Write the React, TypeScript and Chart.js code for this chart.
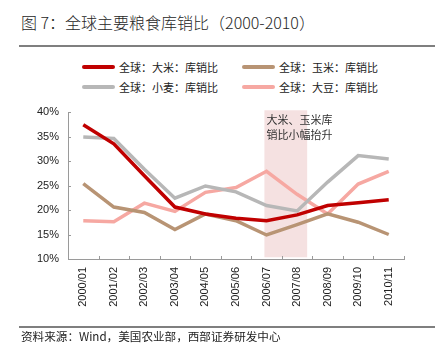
import React, { useEffect, useRef } from 'react';
import { Chart, registerables } from 'chart.js';

Chart.register(...registerables);

const categories = ['2000/01', '2001/02', '2002/03', '2003/04', '2004/05', '2005/06', '2006/07', '2007/08', '2008/09', '2009/10', '2010/11'];
const rice = [37.4, 33.5, 27.0, 20.6, 19.2, 18.3, 17.8, 19.0, 20.9, 21.5, 22.1];
const corn = [25.4, 20.6, 19.5, 16.0, 19.2, 17.8, 14.9, 17.0, 19.2, 17.5, 15.0];
const wheat = [34.9, 34.6, 28.3, 22.4, 24.9, 23.7, 20.9, 19.8, 25.7, 31.1, 30.4];
const soybean = [17.8, 17.6, 21.4, 19.7, 23.6, 24.6, 27.9, 23.2, 19.2, 25.3, 27.9];
const seriesNames = ['全球：大米：库销比', '全球：玉米：库销比', '全球：小麦：库销比', '全球：大豆：库销比'];
const seriesColors = ['#C00000', '#B89474', '#B7B7B7', '#F6A8A2'];
const yMin = 10;
const yMax = 40;
const yStep = 5;
const bandRange = [5.93, 7.33];
const bandNote = ['大米、玉米库', '销比小幅抬升'];
const titleText = '图 7：全球主要粮食库销比（2000-2010）';
const sourceText = '资料来源：Wind，美国农业部，西部证券研发中心';

const CJK = '"Noto Sans CJK SC", "Liberation Sans", sans-serif';
const LAT = '"Liberation Sans", "Noto Sans CJK SC", sans-serif';

const overlayPlugin = {
  id: 'overlay',
  beforeDatasetsDraw(chart: any) {
    const { ctx, scales } = chart;
    const x = scales.x;
    const y = scales.y;
    const x0 = x.getPixelForValue(bandRange[0]);
    const x1 = x.getPixelForValue(bandRange[1]);
    const y0 = y.getPixelForValue(40.35);
    const y1 = y.getPixelForValue(10.35);
    ctx.save();
    ctx.fillStyle = '#F5E1E1';
    ctx.fillRect(x0, y0, x1 - x0, y1 - y0);
    ctx.fillStyle = '#333333';
    ctx.font = '11px ' + CJK;
    ctx.textBaseline = 'middle';
    ctx.textAlign = 'left';
    ctx.fillText(bandNote[0], x0 + 2, y.getPixelForValue(38.4));
    ctx.fillText(bandNote[1], x0 + 2, y.getPixelForValue(35.3));
    ctx.restore();
  },
  afterDraw(chart: any) {
    const { ctx, scales, chartArea } = chart;
    const x = scales.x;
    const y = scales.y;
    ctx.save();
    ctx.strokeStyle = '#9a9a9a';
    ctx.lineWidth = 1;
    ctx.beginPath();
    y.ticks.forEach((t: any) => {
      const py = Math.round(y.getPixelForValue(t.value)) + 0.5;
      ctx.moveTo(chartArea.left, py);
      ctx.lineTo(chartArea.left + 3, py);
    });
    for (let i = 0; i <= categories.length; i++) {
      const px = Math.round(x.getPixelForValue(i - 0.5)) + 0.5;
      ctx.moveTo(px, chartArea.bottom);
      ctx.lineTo(px, chartArea.bottom - 3);
    }
    ctx.stroke();
    ctx.restore();
  },
};

export default function App() {
  const ref = useRef<HTMLCanvasElement>(null);
  useEffect(() => {
    if (!ref.current) return;
    const data = [rice, corn, wheat, soybean];
    const order = [0, 1, 2, 3];
    const chart = new Chart(ref.current, {
      type: 'line',
      data: {
        labels: categories,
        datasets: order.map((i) => ({
          label: seriesNames[i],
          data: data[i],
          borderColor: seriesColors[i],
          backgroundColor: seriesColors[i],
          borderWidth: 3.5,
          pointRadius: 0,
          tension: 0,
          fill: false,
          order: i === 0 ? 0 : 1,
        })),
      },
      options: {
        responsive: false,
        animation: false,
        layout: { padding: { left: 0, top: 112, right: 37, bottom: 55 } },
        plugins: { legend: { display: false }, tooltip: { enabled: false }, title: { display: false } },
        scales: {
          x: {
            type: 'category',
            offset: true,
            grid: { display: false, drawTicks: false },
            border: { display: true, color: '#9a9a9a', width: 1 },
            ticks: {
              autoSkip: false,
              minRotation: 90,
              maxRotation: 90,
              padding: 8,
              color: '#222',
              font: { family: LAT, size: 11 },
            },
            afterFit: (s: any) => { s.height = 50; },
          },
          y: {
            min: yMin,
            max: yMax,
            grid: { display: false, drawTicks: false },
            border: { display: true, color: '#9a9a9a', width: 1 },
            ticks: {
              stepSize: yStep,
              padding: 9,
              color: '#222',
              font: { family: LAT, size: 11 },
              callback: (v: any) => v + '%',
            },
            afterFit: (s: any) => { s.width = 68; },
          },
        },
      },
      plugins: [overlayPlugin],
    });
    return () => chart.destroy();
  }, []);

  const legendItems = [
    { i: 0, left: 82, top: 67 },
    { i: 1, left: 242, top: 67 },
    { i: 2, left: 82, top: 87 },
    { i: 3, left: 242, top: 87 },
  ];

  return (
    <div style={{ position: 'fixed', left: 0, top: 0, width: 441, height: 364, background: '#fff', overflow: 'hidden' }}>
      <div style={{ position: 'absolute', left: 21, top: 12, fontFamily: CJK, fontSize: 16, fontWeight: 300, color: '#262626', whiteSpace: 'nowrap', lineHeight: '20px' }}>
        {titleText}
      </div>
      <div style={{ position: 'absolute', left: 19, top: 45, width: 416, height: 2, background: '#7f7f7f' }} />
      {legendItems.map((it) => (
        <div key={it.i}>
          <div style={{ position: 'absolute', left: it.left, top: it.top - 2, width: 33, height: 4, background: seriesColors[it.i], borderRadius: 2 }} />
          <div style={{ position: 'absolute', left: it.left + 37, top: it.top - 8, fontFamily: CJK, fontSize: 11, lineHeight: '16px', color: '#222', whiteSpace: 'nowrap' }}>
            {seriesNames[it.i]}
          </div>
        </div>
      ))}
      <canvas ref={ref} width={441} height={364} style={{ position: 'absolute', left: 0, top: 0, width: 441, height: 364 }} />
      <div style={{ position: 'absolute', left: 19, top: 326, width: 416, height: 2, background: '#7f7f7f' }} />
      <div style={{ position: 'absolute', left: 21, top: 328, fontFamily: CJK, fontSize: 11.6, lineHeight: '16px', color: '#222', whiteSpace: 'nowrap' }}>
        {sourceText}
      </div>
    </div>
  );
}
